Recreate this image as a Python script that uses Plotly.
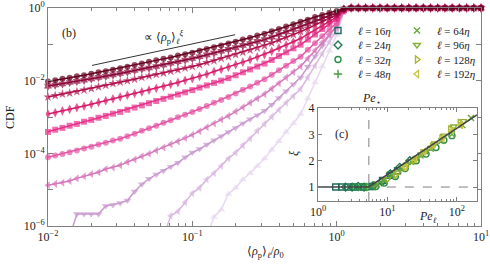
import plotly.graph_objects as go

# ---------------- main panel data (log10 of rho/rho0, log10 of CDF) ----------------
RHO_LOG10_RISE = [-2.00, -1.95, -1.90, -1.85, -1.80, -1.75, -1.70, -1.65, -1.60, -1.55,
                  -1.50, -1.45, -1.40, -1.35, -1.30, -1.25, -1.20, -1.15, -1.10, -1.05,
                  -1.00, -0.95, -0.90, -0.85, -0.80, -0.75, -0.70, -0.65, -0.60, -0.55,
                  -0.50, -0.45, -0.40, -0.35, -0.30, -0.25, -0.20, -0.15, -0.10, -0.05,
                  0.00, 0.05]
RHO_LOG10_PLATEAU = [0.10, 0.15, 0.20, 0.25, 0.30, 0.35, 0.40, 0.45, 0.50, 0.55,
                     0.60, 0.65, 0.70, 0.75, 0.80, 0.85, 0.90, 0.95, 1.00]
PLATEAU_LOG_CDF = [0.0, 0.0, 0.0, 0.0, 0.0, 0.0, 0.0, 0.0, 0.0, 0.0,
                   0.0, 0.0, 0.0, 0.0, 0.0, 0.0, 0.0, 0.0, 0.0]

C1 = [-2.02, -1.99, -1.95, -1.92, -1.88, -1.85, -1.81, -1.77, -1.74, -1.70,
      -1.66, -1.62, -1.57, -1.53, -1.48, -1.44, -1.40, -1.36, -1.31, -1.27,
      -1.23, -1.18, -1.13, -1.08, -1.03, -0.98, -0.93, -0.87, -0.82, -0.76,
      -0.71, -0.64, -0.58, -0.51, -0.45, -0.38, -0.32, -0.25, -0.19, -0.13,
      -0.08, -0.02]
C2 = [-2.15, -2.12, -2.09, -2.05, -2.02, -1.99, -1.95, -1.91, -1.88, -1.84,
      -1.80, -1.76, -1.72, -1.68, -1.65, -1.61, -1.57, -1.52, -1.48, -1.43,
      -1.39, -1.34, -1.29, -1.24, -1.19, -1.14, -1.09, -1.03, -0.98, -0.92,
      -0.87, -0.80, -0.73, -0.66, -0.59, -0.52, -0.44, -0.37, -0.29, -0.21,
      -0.14, -0.03]
C3 = [-2.45, -2.41, -2.37, -2.34, -2.30, -2.26, -2.22, -2.17, -2.13, -2.08,
      -2.04, -2.00, -1.96, -1.91, -1.87, -1.83, -1.79, -1.74, -1.70, -1.65,
      -1.61, -1.56, -1.50, -1.45, -1.39, -1.34, -1.28, -1.22, -1.16, -1.10,
      -1.04, -0.96, -0.88, -0.81, -0.73, -0.65, -0.56, -0.46, -0.37, -0.28,
      -0.19, -0.04]
C4 = [-2.92, -2.88, -2.83, -2.79, -2.74, -2.70, -2.65, -2.60, -2.55, -2.50,
      -2.45, -2.40, -2.35, -2.31, -2.26, -2.21, -2.16, -2.10, -2.05, -1.99,
      -1.94, -1.88, -1.82, -1.75, -1.69, -1.63, -1.56, -1.49, -1.42, -1.35,
      -1.28, -1.19, -1.10, -1.02, -0.93, -0.84, -0.72, -0.60, -0.49, -0.37,
      -0.25, -0.05]
C5 = [-3.41, -3.35, -3.30, -3.24, -3.19, -3.13, -3.08, -3.02, -2.97, -2.91,
      -2.86, -2.80, -2.74, -2.68, -2.62, -2.56, -2.50, -2.44, -2.38, -2.32,
      -2.26, -2.19, -2.13, -2.06, -2.00, -1.93, -1.85, -1.77, -1.69, -1.61,
      -1.53, -1.43, -1.32, -1.22, -1.11, -1.01, -0.87, -0.73, -0.58, -0.44,
      -0.30, -0.06]
C6 = [-4.11, -4.06, -4.02, -3.97, -3.92, -3.87, -3.82, -3.76, -3.71, -3.65,
      -3.60, -3.53, -3.46, -3.38, -3.31, -3.24, -3.16, -3.09, -3.01, -2.94,
      -2.86, -2.78, -2.70, -2.61, -2.53, -2.45, -2.35, -2.25, -2.16, -2.06,
      -1.96, -1.84, -1.71, -1.59, -1.46, -1.34, -1.15, -0.97, -0.78, -0.60,
      -0.41, -0.07]
C7 = [-4.88, -4.84, -4.81, -4.76, -4.69, -4.63, -4.57, -4.52, -4.43, -4.39,
      -4.33, -4.24, -4.17, -4.08, -4.01, -3.92, -3.84, -3.75, -3.67, -3.58,
      -3.49, -3.39, -3.28, -3.18, -3.07, -2.97, -2.85, -2.73, -2.61, -2.49,
      -2.37, -2.22, -2.07, -1.91, -1.76, -1.61, -1.39, -1.17, -0.95, -0.73,
      -0.52, -0.08]
C8 = [None, None, None, -6.3, -5.67, -5.67, -5.67, -5.67, -5.45, -5.42,
      -5.37, -5.30, -5.05, -4.85, -4.70, -4.58, -4.48, -4.37, -4.26, -4.11,
      -3.98, -3.88, -3.76, -3.64, -3.53, -3.41, -3.30, -3.18, -3.06, -2.95,
      -2.83, -2.66, -2.48, -2.29, -2.10, -1.91, -1.62, -1.33, -1.04, -0.75,
      -0.46, -0.09]
C9 = [None, None, None, None, None, None, None, None, None, None,
      None, None, None, None, None, None, -6.3, -5.72, -5.60, -5.35,
      -5.10, -4.95, -4.72, -4.55, -4.35, -4.14, -3.98, -3.78, -3.60, -3.38,
      -3.19, -2.99, -2.80, -2.61, -2.42, -2.23, -1.91, -1.59, -1.26, -0.93,
      -0.60, -0.10]
C10 = [None, None, None, None, None, None, None, None, None, None,
       None, None, None, None, None, None, None, None, None, None,
       None, None, -6.3, -5.75, -5.55, -5.12, -4.95, -4.72, -4.55, -4.35,
       -4.14, -3.90, -3.67, -3.41, -3.17, -2.92, -2.49, -2.05, -1.61, -1.18,
       -0.74, -0.12]

CURVES = [C1, C2, C3, C4, C5, C6, C7, C8, C9, C10]
CURVE_COLORS = ["#67001f", "#8a0637", "#b0104d", "#d61a68", "#e6308a",
                "#e456a4", "#d676ba", "#c99acf", "#d8b8e0", "#e8d9ef"]
CURVE_SYMBOLS = ["circle", "hexagram", "star", "diamond-tall", "square",
                 "circle", "triangle-left", "triangle-down", "triangle-left", "triangle-up"]
CURVE_MSIZE = [6, 7, 7, 7, 6, 6, 7, 7, 7, 7]

# power-law guide line
GUIDE_RHO = [0.0202, 0.198]
GUIDE_CDF = [0.0263, 0.184]

# ---------------- inset data: xi vs Pe_ell ----------------
ELL_LABELS = ["16", "24", "32", "48", "64", "96", "128", "192"]
ELL_COLORS = ["#1b6b5a", "#1f7c50", "#2b8a48", "#4a9c3e", "#6aa63c", "#8aae38", "#a8b833", "#c6c845"]
ELL_SYMBOLS = ["square-open", "diamond-open", "circle-open", "cross-thin-open", "x-thin-open",
               "triangle-down-open", "triangle-right-open", "triangle-left-open"]
PE_16 = [1.8, 2.2, 2.7, 3.3, 4.5, 6.0, 8.5, 11.0, 14.0]
XI_16 = [1.00, 1.00, 1.00, 1.00, 1.00, 1.02, 1.25, 1.45, 1.62]
PE_24 = [2.5, 3.1, 3.8, 4.6, 6.2, 8.3, 11.0, 15.0, 21.0]
XI_24 = [1.00, 1.00, 1.02, 1.00, 1.05, 1.20, 1.50, 1.75, 2.00]
PE_32 = [3.4, 4.2, 5.2, 6.8, 9.0, 13.0, 18.0, 26.0, 36.0, 50.0, 65.0, 85.0]
XI_32 = [1.00, 1.00, 1.00, 1.02, 1.15, 1.40, 1.70, 2.00, 2.25, 2.50, 2.78, 2.95]
PE_48 = [5.0, 6.5, 8.5, 11.0, 15.0, 20.0, 28.0, 38.0]
XI_48 = [1.00, 1.05, 1.20, 1.45, 1.65, 1.90, 2.15, 2.40]
PE_64 = [7.0, 9.0, 12.0, 16.0, 22.0, 30.0, 42.0, 60.0, 85.0, 120.0, 160.0]
XI_64 = [1.10, 1.25, 1.45, 1.70, 1.95, 2.20, 2.45, 2.75, 3.00, 3.35, 3.62]
PE_96 = [10.0, 14.0, 19.0, 26.0, 35.0, 48.0, 65.0, 90.0, 125.0]
XI_96 = [1.30, 1.55, 1.85, 2.10, 2.35, 2.65, 2.95, 3.30, 3.50]
PE_128 = [13.0, 18.0, 24.0, 32.0, 44.0, 60.0, 80.0, 110.0]
XI_128 = [1.45, 1.75, 2.00, 2.30, 2.55, 2.85, 3.20, 3.45]
PE_192 = [18.0, 25.0, 34.0, 46.0, 62.0, 85.0, 115.0]
XI_192 = [1.75, 2.05, 2.35, 2.60, 2.85, 3.15, 3.35]
INSET_PE = [PE_16, PE_24, PE_32, PE_48, PE_64, PE_96, PE_128, PE_192]
INSET_XI = [XI_16, XI_24, XI_32, XI_48, XI_64, XI_96, XI_128, XI_192]

FIT_PE = [1.0, 5.4, 195.0]
FIT_XI = [1.0, 1.0, 3.74]
PE_STAR = 5.4

# ---------------- figure ----------------
FONT = "Liberation Serif"
AXC = "#808080"
W, H = 490, 264
ML, MR, MT, MB = 48, 9, 8, 38
PW, PH = W - ML - MR, H - MT - MB


def px_x(px):
    return (px - ML) / PW


def px_y(py):
    return (H - MB - py) / PH


fig = go.Figure()

rho_all = [10 ** v for v in RHO_LOG10_RISE + RHO_LOG10_PLATEAU]
for i in reversed(range(len(CURVES))):
    vals = CURVES[i] + PLATEAU_LOG_CDF
    assert len(vals) == len(rho_all)
    y = [None if v is None else 10 ** v for v in vals]
    sizes = [0 if (v is None or v < -6) else CURVE_MSIZE[i] for v in vals]
    fig.add_trace(go.Scatter(
        x=rho_all, y=y, mode="lines+markers", cliponaxis=False,
        line=dict(color=CURVE_COLORS[i], width=1.5),
        marker=dict(symbol=CURVE_SYMBOLS[i], size=sizes, color=CURVE_COLORS[i],
                    line=dict(width=0)),
        showlegend=False, xaxis="x", yaxis="y"))

fig.add_trace(go.Scatter(x=GUIDE_RHO, y=GUIDE_CDF, mode="lines",
                         line=dict(color="#333333", width=1), showlegend=False))

# inset
fig.add_trace(go.Scatter(x=[PE_STAR, PE_STAR], y=[0.47, 4.0], mode="lines",
                         line=dict(color="#808080", width=1, dash="dash"),
                         showlegend=False, xaxis="x2", yaxis="y2"))
fig.add_trace(go.Scatter(x=[PE_STAR, 195.0], y=[1.0, 1.0], mode="lines",
                         line=dict(color="#808080", width=1, dash="dash"),
                         showlegend=False, xaxis="x2", yaxis="y2"))
LEG_NAMES = ["legend", "legend2", "legend3", "legend4"]
for k in range(len(ELL_LABELS)):
    fig.add_trace(go.Scatter(
        x=INSET_PE[k], y=INSET_XI[k], mode="markers",
        marker=dict(symbol=ELL_SYMBOLS[k], size=6, color=ELL_COLORS[k],
                    line=dict(width=1.4, color=ELL_COLORS[k])),
        name=f"<i>ℓ</i> = {ELL_LABELS[k]}<i>η</i>",
        legend=LEG_NAMES[k % 4], legendwidth=34 if k < 4 else 50,
        xaxis="x2", yaxis="y2"))
fig.add_trace(go.Scatter(x=FIT_PE, y=FIT_XI, mode="lines",
                         line=dict(color="#444444", width=1.6),
                         showlegend=False, xaxis="x2", yaxis="y2"))


def pw(e):
    return "10<sup>" + (str(e) if e >= 0 else "−" + str(-e)) + "</sup>"


minor_x = [m * 10 ** d for d in (-2, -1, 0) for m in range(2, 10)]

legend_rows = {}
for r, top in enumerate([16.0, 30.5, 45.0, 59.5]):
    legend_rows[LEG_NAMES[r]] = dict(
        x=px_x(318), y=px_y(top), xanchor="left", yanchor="top", orientation="h",
        bgcolor="rgba(0,0,0,0)", font=dict(size=11, family=FONT), itemwidth=30,
        entrywidthmode="pixels")


def ann(text, px, py, angle=0):
    return dict(text=text, x=px_x(px), y=px_y(py), xref="paper", yref="paper",
                xanchor="center", yanchor="middle", showarrow=False, textangle=angle,
                font=dict(size=12))


fig.update_layout(
    width=W, height=H,
    margin=dict(l=ML, r=MR, t=MT, b=MB, autoexpand=False),
    paper_bgcolor="white", plot_bgcolor="white",
    font=dict(family=FONT, size=12, color="#222222"),
    xaxis=dict(type="log", range=[-2, 1], domain=[0, 1], automargin=False,
               tickvals=[0.01, 0.1, 1, 10], ticktext=[pw(-2), pw(-1), pw(0), pw(1)],
               ticks="inside", ticklen=5, tickcolor=AXC, mirror="allticks",
               showline=True, linecolor=AXC, linewidth=1, showgrid=False, zeroline=False,
               minor=dict(tickvals=minor_x, ticks="inside", ticklen=3, tickcolor=AXC, showgrid=False)),
    yaxis=dict(type="log", range=[-6, 0], domain=[0, 1], automargin=False,
               tickvals=[1e-6, 1e-5, 1e-4, 1e-3, 1e-2, 1e-1, 1],
               ticktext=[pw(-6), "", pw(-4), "", pw(-2), "", pw(0)],
               ticks="inside", ticklen=5, tickcolor=AXC, mirror="allticks",
               showline=True, linecolor=AXC, linewidth=1, showgrid=False, zeroline=False),
    xaxis2=dict(type="log", range=[0, 2.29], domain=[px_x(318), px_x(477)], anchor="y2",
                automargin=False,
                tickvals=[1, 10, 100], ticktext=[pw(0), pw(1), pw(2)],
                ticks="inside", ticklen=4, tickcolor=AXC, mirror="allticks",
                showline=True, linecolor=AXC, linewidth=1, showgrid=False, zeroline=False,
                minor=dict(tickvals=[m * 10 ** d for d in (0, 1, 2) for m in range(2, 10)],
                           ticks="inside", ticklen=2, tickcolor=AXC, showgrid=False)),
    yaxis2=dict(range=[0.47, 4.0], domain=[px_y(201), px_y(108)], anchor="x2",
                automargin=False,
                tickvals=[1, 2, 3, 4], ticks="inside", ticklen=4, tickcolor=AXC,
                mirror="allticks", showline=True, linecolor=AXC, linewidth=1,
                showgrid=False, zeroline=False),
    annotations=[
        ann("(b)", 69, 33),
        ann("∝ ⟨<i>ρ</i><sub>p</sub>⟩<sub><i>ℓ</i></sub><sup><i>ξ</i></sup>", 163, 37),
        ann("CDF", 10, 117, -90),
        ann("⟨<i>ρ</i><sub>p</sub>⟩<sub><i>ℓ</i></sub>/<i>ρ</i><sub>0</sub>", 265, 252),
        ann("(c)", 341, 134),
        ann("<i>Pe</i><sub>⋆</sub>", 371, 99),
        ann("<i>ξ</i>", 294, 153, -90),
        ann("<i>Pe</i><sub><i>ℓ</i></sub>", 428, 217),
    ],
    **legend_rows,
)

fig.write_html("out.html", config={"displayModeBar": False},
               post_script="document.body.style.margin='0';document.body.style.overflow='hidden';")
